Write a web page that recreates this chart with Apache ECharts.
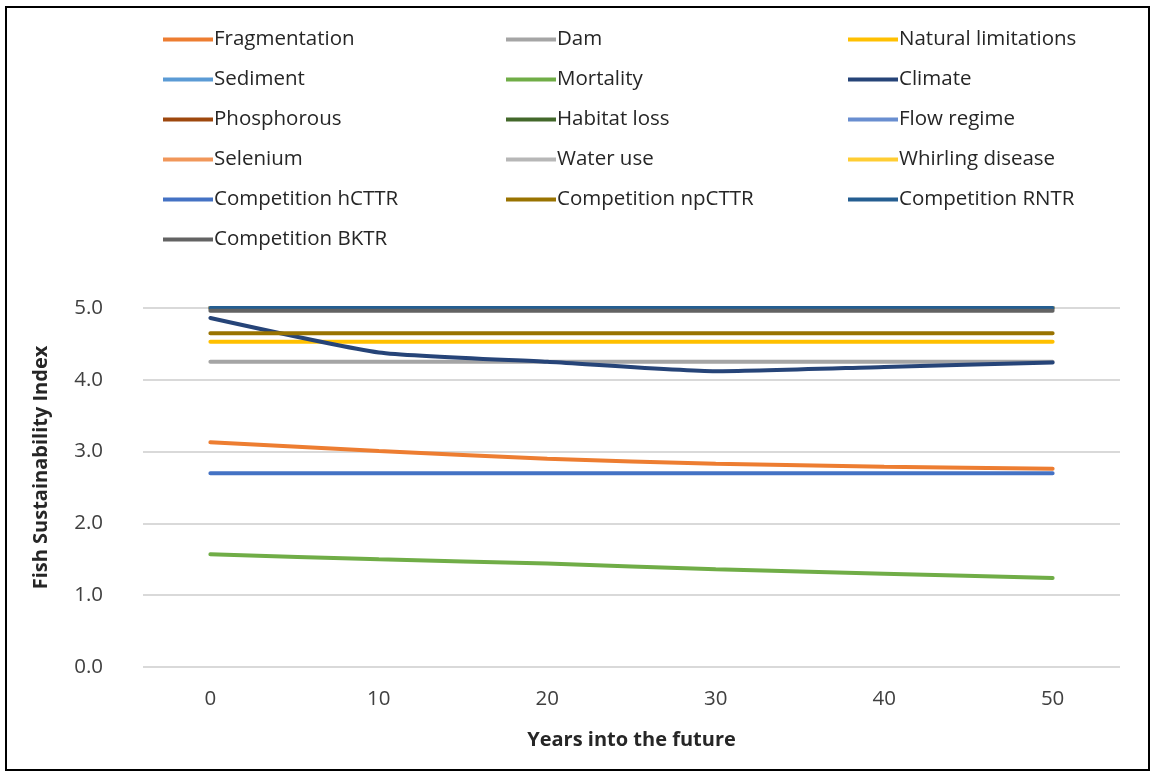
<!DOCTYPE html>
<html><head><meta charset="utf-8">
<script src="https://cdn.jsdelivr.net/npm/echarts@6/dist/echarts.min.js"></script>
<style>html,body{margin:0;padding:0;background:#fff}#c{width:1155px;height:777px}</style>
</head><body><div id="c"></div>
<script>
const years = [0, 10, 20, 30, 40, 50];
const fragmentation = [3.13, 3.01, 2.90, 2.83, 2.79, 2.76];
const dam = [4.25, 4.25, 4.25, 4.25, 4.25, 4.25];
const naturalLimitations = [4.53, 4.53, 4.53, 4.53, 4.53, 4.53];
const sediment = [5.0, 5.0, 5.0, 5.0, 5.0, 5.0];
const mortality = [1.57, 1.50, 1.44, 1.36, 1.30, 1.24];
const climate = [4.86, 4.38, 4.25, 4.12, 4.18, 4.24];
const phosphorous = [5.0, 5.0, 5.0, 5.0, 5.0, 5.0];
const habitatLoss = [5.0, 5.0, 5.0, 5.0, 5.0, 5.0];
const flowRegime = [5.0, 5.0, 5.0, 5.0, 5.0, 5.0];
const selenium = [5.0, 5.0, 5.0, 5.0, 5.0, 5.0];
const waterUse = [5.0, 5.0, 5.0, 5.0, 5.0, 5.0];
const whirlingDisease = [5.0, 5.0, 5.0, 5.0, 5.0, 5.0];
const compHCTTR = [2.70, 2.70, 2.70, 2.70, 2.70, 2.70];
const compNpCTTR = [4.65, 4.65, 4.65, 4.65, 4.65, 4.65];
const compRNTR = [5.0, 5.0, 5.0, 5.0, 5.0, 5.0];
const compBKTR = [4.96, 4.96, 4.96, 4.96, 4.96, 4.96];
const yTicks = [0, 1, 2, 3, 4, 5];
const xTicks = [0, 10, 20, 30, 40, 50];

const seriesDefs = [
  ['Fragmentation', fragmentation, '#ED7D31'],
  ['Dam', dam, '#A5A5A5'],
  ['Natural limitations', naturalLimitations, '#FFC000'],
  ['Sediment', sediment, '#5B9BD5'],
  ['Mortality', mortality, '#70AD47'],
  ['Climate', climate, '#264478'],
  ['Phosphorous', phosphorous, '#9E480E'],
  ['Habitat loss', habitatLoss, '#43682B'],
  ['Flow regime', flowRegime, '#698ED0'],
  ['Selenium', selenium, '#F1975A'],
  ['Water use', waterUse, '#B7B7B7'],
  ['Whirling disease', whirlingDisease, '#FFCD33'],
  ['Competition hCTTR', compHCTTR, '#4472C4'],
  ['Competition npCTTR', compNpCTTR, '#997300'],
  ['Competition RNTR', compRNTR, '#255E91'],
  ['Competition BKTR', compBKTR, '#636363']
];
const FONT = '"Open Sans"';
const names = seriesDefs.map(d => d[0]);
const cols = [[], [], []];
names.forEach((n, i) => cols[i % 3].push(n));
const legendX = [163, 506, 848];
const legends = cols.map((c, k) => ({
  data: c, orient: 'vertical', left: legendX[k], top: 29, padding: 0,
  icon: 'rect', itemWidth: 50, itemHeight: 4, itemGap: 19,
  textStyle: {fontFamily: FONT, fontSize: 20.5, color: '#262626', lineHeight: 20, padding: [0, 0, 0, -4]},
  selectedMode: false
}));

const chart = echarts.init(document.getElementById('c'));
chart.setOption({
  animation: false,
  backgroundColor: '#fff',
  graphic: [{type: 'rect', shape: {x: 6, y: 7, width: 1143, height: 763}, style: {fill: 'none', stroke: '#000', lineWidth: 2}}],
  legend: legends,
  grid: {left: 143, right: 35, top: 308, bottom: 110},
  xAxis: {
    type: 'value', min: -4, max: 54, interval: 2,
    axisLine: {show: false}, axisTick: {show: false}, splitLine: {show: false},
    axisLabel: {
      fontFamily: FONT, fontSize: 20.5, color: '#404040', margin: 22,
      formatter: v => (xTicks.indexOf(v) >= 0 ? String(v) : ''),
      showMinLabel: true, showMaxLabel: true
    },
    name: 'Years into the future', nameLocation: 'middle', nameGap: 63,
    nameTextStyle: {fontFamily: FONT, fontSize: 20, fontWeight: 'bold', color: '#262626'}
  },
  yAxis: {
    type: 'value', min: yTicks[0], max: yTicks[yTicks.length - 1], interval: 1,
    axisLine: {show: false}, axisTick: {show: false},
    splitLine: {lineStyle: {color: '#D9D9D9', width: 2}},
    axisLabel: {fontFamily: FONT, fontSize: 20.5, color: '#404040', margin: 40, formatter: v => v.toFixed(1)},
    name: 'Fish Sustainability Index', nameLocation: 'middle', nameGap: 92, nameRotate: 90,
    nameTextStyle: {fontFamily: FONT, fontSize: 20, fontWeight: 'bold', color: '#262626', padding: [0, 0, 0, 40]}
  },
  series: seriesDefs.map(d => ({
    name: d[0], type: 'line', smooth: 0.18, showSymbol: false, symbol: 'none',
    data: years.map((x, i) => [x, d[1][i]]),
    lineStyle: {color: d[2], width: 4, cap: 'round'},
    itemStyle: {color: d[2]},
    emphasis: {disabled: true}
  }))
});
</script></body></html>
